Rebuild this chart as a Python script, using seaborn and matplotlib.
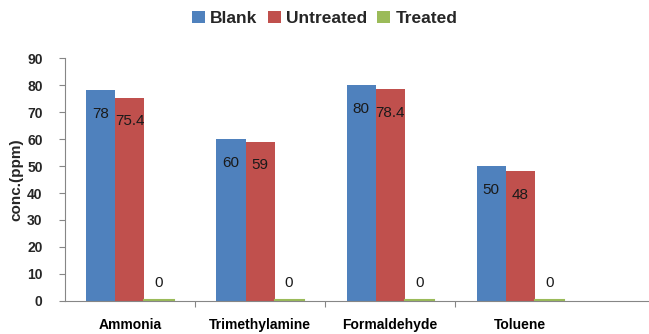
import numpy as np
import pandas as pd
import seaborn as sns
import matplotlib.pyplot as plt
from matplotlib.ticker import FixedLocator

##
# DATA
##
gases = ["Ammonia", "Trimethylamine", "Formaldehyde", "Toluene"]
groups = ["Blank", "Untreated", "Treated"]
blank = [78, 60, 80, 50]
untreated = [75.4, 59, 78.4, 48]
treated = [0.4, 0.4, 0.4, 0.4]   # shown as "0" in the chart
colors = ["#4F81BD", "#C0504D", "#9BBB59"]

df = pd.DataFrame({
    "gas": gases * 3,
    "group": [g for g in groups for _ in gases],
    "conc": blank + untreated + treated,
})

##
# PLOT
##
sns.set_theme(style="white")
plt.rcParams["font.family"] = ["Liberation Sans", "DejaVu Sans"]

fig = plt.figure(figsize=(6.49, 3.34), dpi=100)
ax = fig.add_axes([0.1, 0.099, 0.9, 0.727])

sns.barplot(data=df, x="gas", y="conc", hue="group", palette=colors,
            width=0.67, saturation=1, ax=ax, errorbar=None, linewidth=0)

# labels: inside end for Blank/Untreated, above for Treated
for cont, name in zip(ax.containers, groups):
    vals = [b.get_height() for b in cont]
    if name == "Treated":
        for b in cont:
            b.set_edgecolor(colors[2])
            b.set_linewidth(1.5)
        ax.bar_label(cont, labels=["%.0f" % v for v in vals], padding=7,
                     fontsize=11, color="#1a1a1a")
    else:
        ax.bar_label(cont, labels=["%g" % v for v in vals], padding=-22,
                     fontsize=11, color="#1a1a1a")

ax.set_ylim(0, 90)
ax.set_xlim(-0.5, 3.99)
ax.set_yticks(np.arange(0, 91, 10))
ax.set_xlabel("")
ax.set_ylabel("conc.(ppm)", fontsize=11, fontweight="bold", labelpad=3)

for lab in ax.get_yticklabels():
    lab.set_fontweight("bold")
    lab.set_fontsize(10)
for lab in ax.get_xticklabels():
    lab.set_fontweight("bold")
    lab.set_fontsize(10)

ax.xaxis.set_minor_locator(FixedLocator([0.5, 1.5, 2.5]))
ax.tick_params(axis="x", which="major", length=0, pad=12, colors="black")
ax.tick_params(axis="x", which="minor", bottom=True, length=4, width=0.8, color="#868686")
ax.tick_params(axis="y", which="major", left=True, length=4, width=0.8, color="#868686", pad=12)

for s in ["top", "right"]:
    ax.spines[s].set_visible(False)
for s in ["left", "bottom"]:
    ax.spines[s].set_color("#868686")
    ax.spines[s].set_linewidth(0.8)

handles, labels = ax.get_legend_handles_labels()
ax.legend(handles, labels, loc="center", bbox_to_anchor=(0.5, 0.945),
          bbox_transform=fig.transFigure, ncol=3, frameon=False,
          handlelength=0.75, handleheight=0.75, handletextpad=0.3,
          columnspacing=0.6, prop={"weight": "bold", "size": 12.5})

fig.savefig("out.png", dpi=100)
